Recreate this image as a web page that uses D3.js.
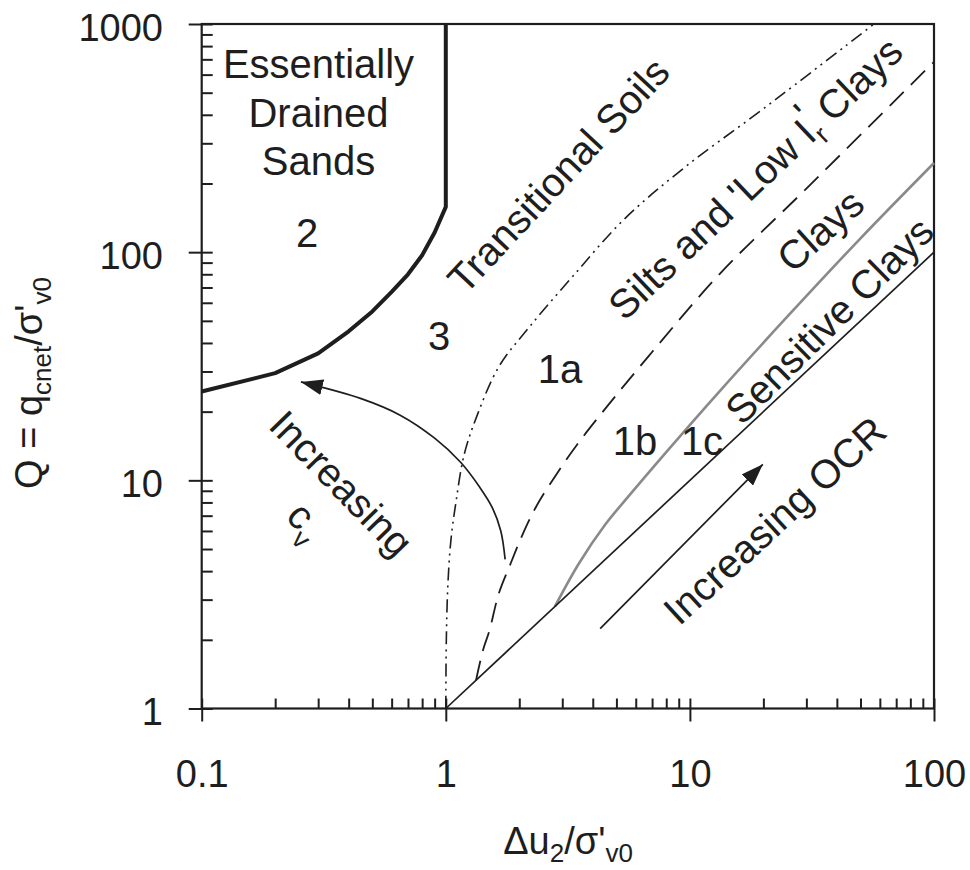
<!DOCTYPE html>
<html>
<head>
<meta charset="utf-8">
<script src="https://cdn.jsdelivr.net/npm/d3@7"></script>
<style>
  body { margin: 0; background: #fff; }
  svg text { font-family: "Liberation Sans", Arial, Helvetica, sans-serif; fill: #1e1e1e; }
</style>
</head>
<body>
<div id="chart"></div>
<script>
// axis tick values
var xTicks = [0.1, 1, 10, 100];
var yTicks = [1, 10, 100, 1000];

// boundary lines, each point is [du2/s'v0, Q]
var sandsBoundary = [[1, 1000], [1, 158], [0.9, 122], [0.8, 97], [0.7, 80], [0.6, 67],
  [0.5, 55], [0.4, 45], [0.3, 36], [0.2, 29.5], [0.1, 24.5]];
var transitionalLine = [[1, 1], [1.005, 2], [1.02, 3.5], [1.05, 5.5], [1.1, 8], [1.19, 13],
  [1.35, 19.5], [1.65, 31.5], [2.2, 47], [3.3, 78], [5.4, 140], [9.6, 237], [20, 425], [56.8, 1000]];
var siltsLine = [[1.33, 1.33], [1.42, 1.8], [1.51, 2.2], [1.65, 3.2], [1.84, 4.3], [2.05, 5.7],
  [2.35, 7.7], [2.9, 11], [3.46, 14.4], [4.4, 20], [7, 36.5], [13.2, 80], [30, 190], [100, 683]];
var claysLine = [[2.8, 2.8], [3.5, 4.3], [4.5, 6.4], [5.6, 8.5], [8, 13.3], [13.2, 24.5],
  [25, 52], [50, 115], [100, 246]];
var sensitiveLine = [[1, 1], [100, 100]];
var cvArrow = [[1.75, 4.5], [1.68, 6], [1.55, 7.6], [1.38, 9.3], [1.15, 12], [0.9, 15.3],
  [0.65, 19.3], [0.45, 22.8], [0.255, 27]];
var ocrArrow = [[4.29, 2.24], [19.9, 11.75]];

var svgWidth = 970;
var svgHeight = 870;
var plot = { left: 201.7, right: 934, top: 24, bottom: 708.5 };
var ink = "#1e1e1e";

var svg = d3.select("#chart")
  .append("svg")
  .attr("width", svgWidth)
  .attr("height", svgHeight);

var xScale = d3.scaleLog().domain([0.1, 100]).range([plot.left, plot.right]);
var yScale = d3.scaleLog().domain([1, 1000]).range([plot.bottom, plot.top]);

// arrow head
svg.append("defs").append("marker")
  .attr("id", "head")
  .attr("viewBox", "0 0 22 16")
  .attr("refX", 22)
  .attr("refY", 8)
  .attr("markerWidth", 22)
  .attr("markerHeight", 16)
  .attr("markerUnits", "userSpaceOnUse")
  .attr("orient", "auto")
  .append("path")
  .attr("d", "M0,0 L22,8 L0,16 Z")
  .attr("fill", ink);

// inner ticks (all)
var xInner = svg.append("g")
  .attr("transform", `translate(0,${plot.bottom})`)
  .call(d3.axisTop(xScale).tickSizeInner(10).tickSizeOuter(0).tickFormat(""));
var yInner = svg.append("g")
  .attr("transform", `translate(${plot.left},0)`)
  .call(d3.axisRight(yScale).tickSizeInner(11).tickSizeOuter(0).tickFormat(""));

// major ticks and labels
var xAxis = svg.append("g")
  .attr("transform", `translate(0,${plot.bottom})`)
  .call(d3.axisBottom(xScale).tickValues(xTicks).tickSizeInner(13).tickSizeOuter(0)
    .tickFormat(d => d < 1 ? "0.1" : d3.format("d")(d)));
var yAxis = svg.append("g")
  .attr("transform", `translate(${plot.left},0)`)
  .call(d3.axisLeft(yScale).tickValues(yTicks).tickSizeInner(13).tickSizeOuter(0)
    .tickFormat(d3.format("d")));

[xInner, yInner, xAxis, yAxis].forEach(function (g) {
  g.select(".domain").remove();
  g.selectAll("line").attr("stroke", ink).attr("stroke-width", 2);
});

xAxis.selectAll("text")
  .attr("font-size", 38)
  .attr("y", 78.5)
  .attr("dy", null)
  .style("font-family", "'Liberation Sans', Arial, sans-serif")
  .attr("fill", ink);
yAxis.selectAll("text")
  .attr("font-size", 38)
  .attr("x", -38.7)
  .attr("y", 16)
  .attr("dy", null)
  .style("font-family", "'Liberation Sans', Arial, sans-serif")
  .attr("fill", ink);

// frame
svg.append("rect")
  .attr("x", plot.left)
  .attr("y", plot.top)
  .attr("width", plot.right - plot.left)
  .attr("height", plot.bottom - plot.top)
  .attr("fill", "none")
  .attr("stroke", ink)
  .attr("stroke-width", 2.2);

var smooth = d3.line()
  .x(d => xScale(d[0]))
  .y(d => yScale(d[1]))
  .curve(d3.curveCatmullRom.alpha(0.5));
var straight = d3.line()
  .x(d => xScale(d[0]))
  .y(d => yScale(d[1]));

svg.append("path").attr("d", straight(sandsBoundary))
  .attr("fill", "none").attr("stroke", ink).attr("stroke-width", 4).attr("stroke-linejoin", "round");

svg.append("path").attr("d", smooth(transitionalLine))
  .attr("fill", "none").attr("stroke", ink).attr("stroke-width", 1.6)
  .attr("stroke-dasharray", "13,5,2,5,2,5");

svg.append("path").attr("d", smooth(siltsLine))
  .attr("fill", "none").attr("stroke", ink).attr("stroke-width", 1.8)
  .attr("stroke-dasharray", "20,10");

svg.append("path").attr("d", smooth(claysLine))
  .attr("fill", "none").attr("stroke", "#8a8a8a").attr("stroke-width", 2.6);

svg.append("path").attr("d", straight(sensitiveLine))
  .attr("fill", "none").attr("stroke", ink).attr("stroke-width", 1.7);

svg.append("path").attr("d", smooth(cvArrow))
  .attr("fill", "none").attr("stroke", ink).attr("stroke-width", 1.7)
  .attr("marker-end", "url(#head)");

svg.append("path").attr("d", straight(ocrArrow))
  .attr("fill", "none").attr("stroke", ink).attr("stroke-width", 1.7)
  .attr("marker-end", "url(#head)");

// plain region labels
var labels = svg.append("g").attr("font-size", 40).attr("text-anchor", "middle");
labels.append("text").attr("x", 318.5).attr("y", 78).text("Essentially");
labels.append("text").attr("x", 318.5).attr("y", 127).text("Drained");
labels.append("text").attr("x", 318.5).attr("y", 175).text("Sands");
labels.append("text").attr("x", 307).attr("y", 247).text("2");
labels.append("text").attr("x", 439).attr("y", 350).text("3");
labels.append("text").attr("x", 560).attr("y", 383).text("1a");
labels.append("text").attr("x", 635).attr("y", 455).text("1b");
labels.append("text").attr("x", 702).attr("y", 455).text("1c");

// rotated labels
function rotated(cx, cy, angle) {
  return labels.append("text")
    .attr("transform", `translate(${cx},${cy}) rotate(${angle})`)
    .attr("dy", "0.36em");
}
rotated(558, 175, -47).text("Transitional Soils");
var silts = rotated(755, 178, -43.6);
silts.append("tspan").text("Silts and 'Low I");
silts.append("tspan").attr("font-size", 27).attr("dy", 9).text("r");
silts.append("tspan").attr("dx", -8).attr("dy", -22).text("'");
silts.append("tspan").attr("dy", 13).text(" Clays");
rotated(820, 230, -42).text("Clays");
rotated(829, 320, -44.7).text("Sensitive Clays");
rotated(774.5, 520, -42.5).text("Increasing OCR");
rotated(341.7, 483, 45.8).text("Increasing");

var cv = labels.append("text")
  .attr("transform", "translate(301.7,515) rotate(45)")
  .attr("text-anchor", "start")
  .attr("x", -10)
  .attr("dy", "0.36em");
cv.append("tspan").text("c");
cv.append("tspan").attr("font-size", 27).attr("dy", 12).text("v");

// axis titles
var yTitle = svg.append("text")
  .attr("font-size", 38)
  .attr("text-anchor", "middle")
  .attr("transform", "translate(42,383) rotate(-90)");
yTitle.append("tspan").text("Q = q");
yTitle.append("tspan").attr("font-size", 26).attr("dy", 9).text("cnet");
yTitle.append("tspan").attr("dy", -9).text("/σ'");
yTitle.append("tspan").attr("font-size", 26).attr("dy", 9).text("v0");

var xTitle = svg.append("text")
  .attr("font-size", 38)
  .attr("text-anchor", "middle")
  .attr("x", 568)
  .attr("y", 854);
xTitle.append("tspan").text("Δu");
xTitle.append("tspan").attr("font-size", 26).attr("dy", 8).text("2");
xTitle.append("tspan").attr("dy", -8).text("/σ'");
xTitle.append("tspan").attr("font-size", 26).attr("dy", 8).text("v0");
</script>
</body>
</html>
